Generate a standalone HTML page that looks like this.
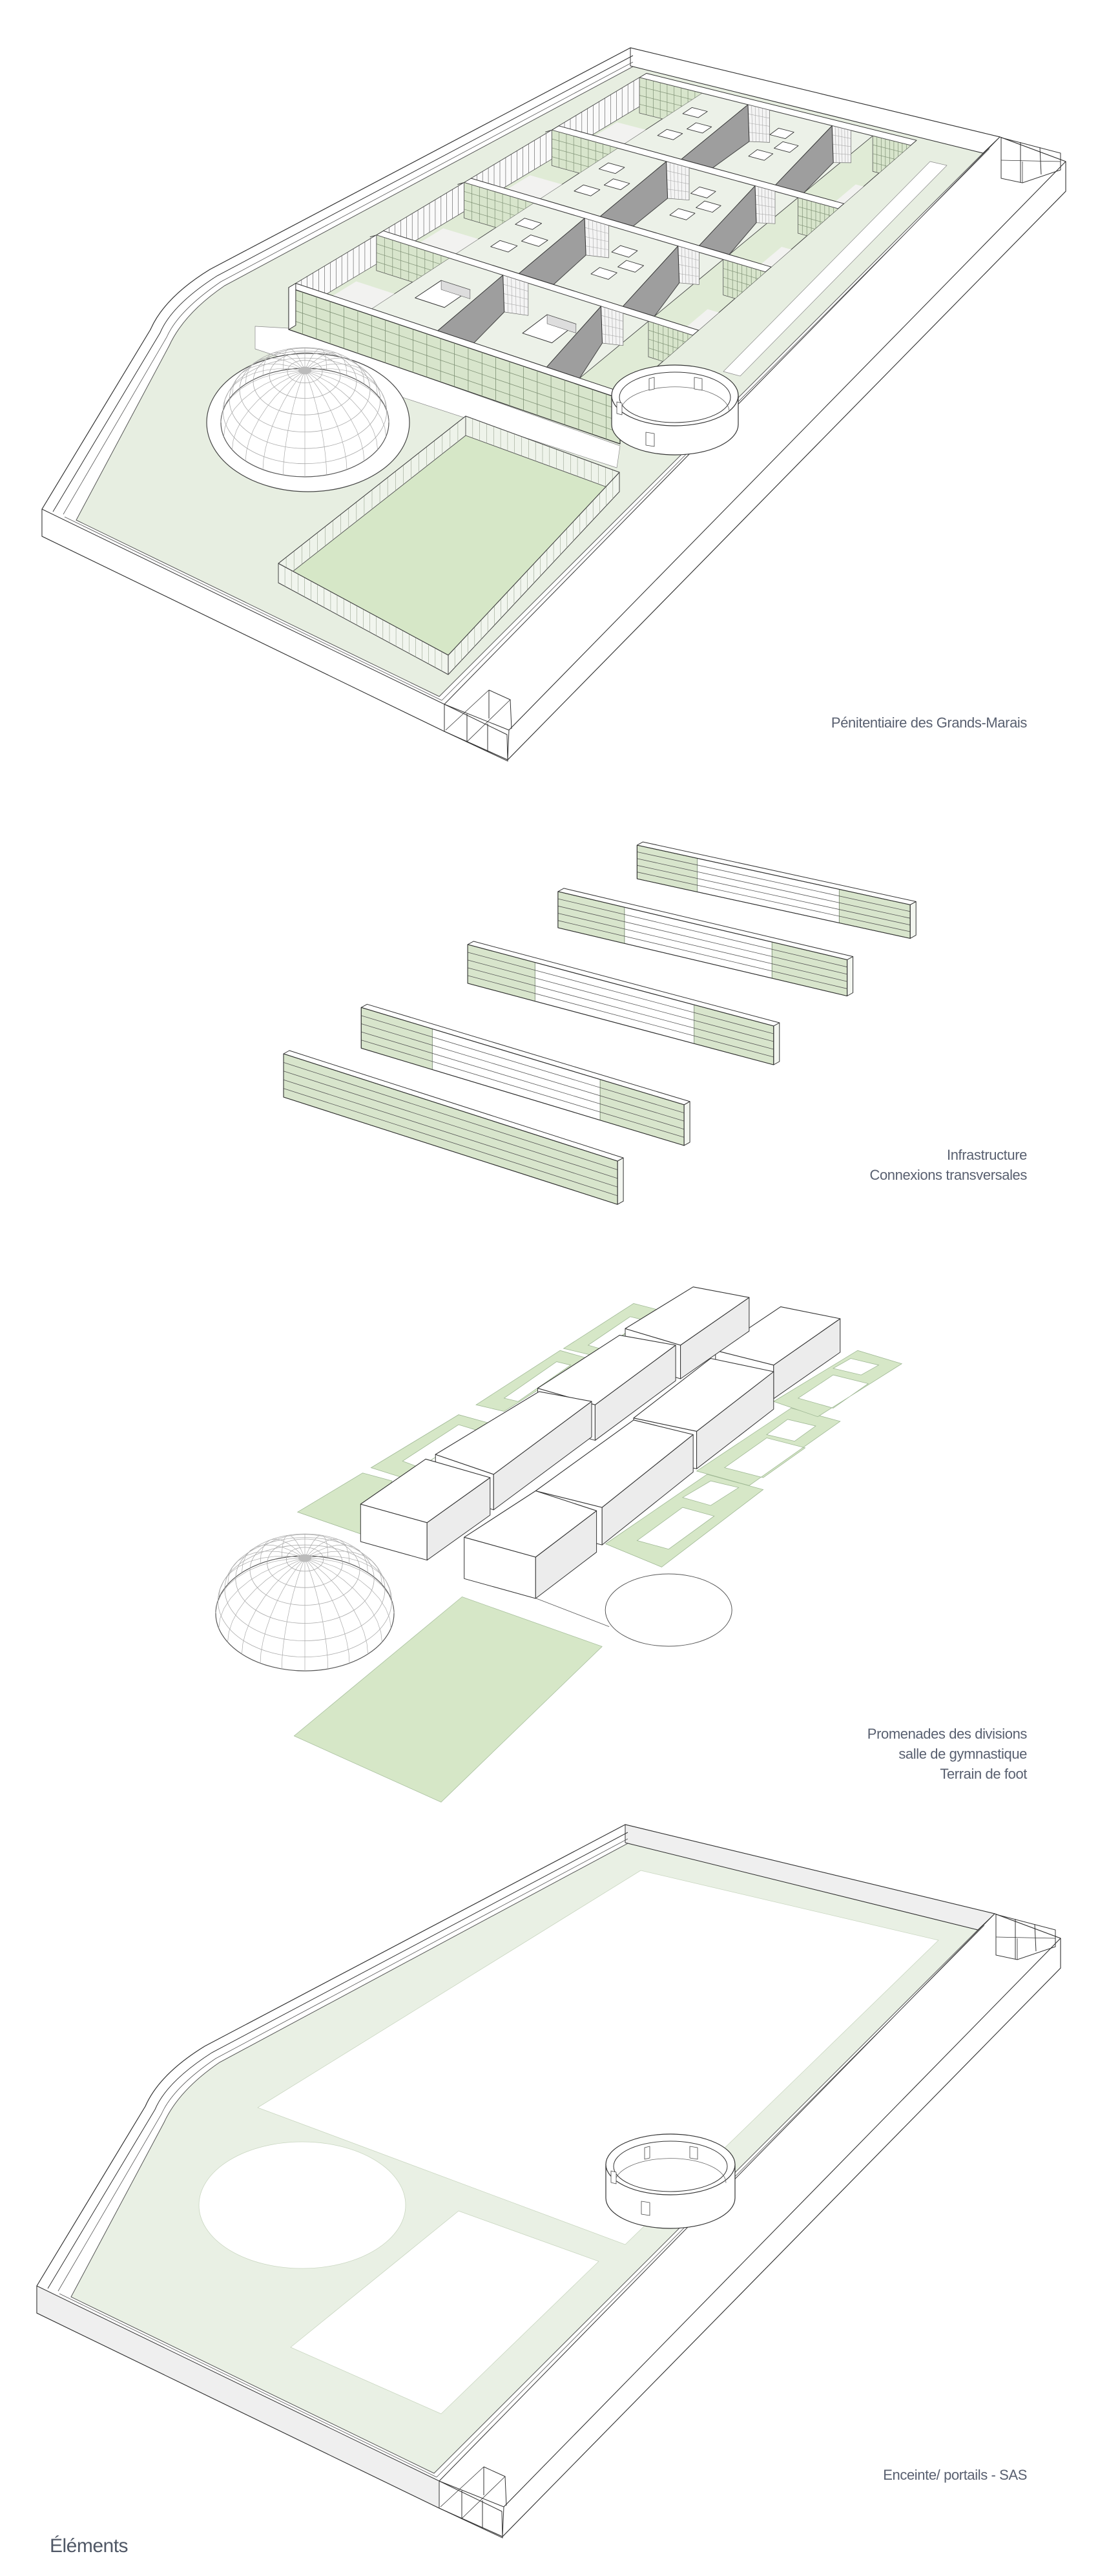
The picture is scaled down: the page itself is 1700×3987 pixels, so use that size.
<!DOCTYPE html>
<html><head><meta charset="utf-8">
<style>
html,body{margin:0;padding:0;background:#fff;}
#wrap{position:relative;width:1700px;height:3987px;overflow:hidden;background:#fff;}
svg{position:absolute;left:0;top:0;}
.t{position:absolute;right:110px;text-align:right;font-family:"Liberation Sans",Arial,sans-serif;font-size:22px;line-height:31px;color:#596070;letter-spacing:-0.4px;}
.el{position:absolute;left:77px;top:3924px;font-family:"Liberation Sans",Arial,sans-serif;font-size:30px;color:#505866;letter-spacing:-0.5px;}
</style></head><body>
<div id="wrap">
<svg id="s" width="1700" height="3987" viewBox="0 0 1700 3987" xmlns="http://www.w3.org/2000/svg"></svg>
<div class="t" style="top:1103px">Pénitentiaire des Grands-Marais</div>
<div class="t" style="top:1772px">Infrastructure<br>Connexions transversales</div>
<div class="t" style="top:2668px;line-height:31px">Promenades des divisions<br>salle de gymnastique<br>Terrain de foot</div>
<div class="t" style="top:3815px">Enceinte/ portails - SAS</div>
<div class="el">Éléments</div>
</div>
<script>
(function(){
var g=[],defs=[],cid=0;
function f1(v){return (Math.round(v*10)/10);}
function pts(a){return a.map(function(p){return f1(p[0])+','+f1(p[1]);}).join(' ');}
function P(a,f,s,w){g.push('<polygon points="'+pts(a)+'" fill="'+(f||'none')+'" stroke="'+(s||'#333')+'" stroke-width="'+(w||1)+'" stroke-linejoin="round"/>');}
function Lp(a,s,w){g.push('<polyline points="'+pts(a)+'" fill="none" stroke="'+(s||'#333')+'" stroke-width="'+(w||1)+'"/>');}
function Pa(d,f,s,w,extra){g.push('<path d="'+d+'" fill="'+(f||'none')+'" stroke="'+(s||'#333')+'" stroke-width="'+(w||1)+'" '+(extra||'')+'/>');}
function El(cx,cy,rx,ry,f,s,w){g.push('<ellipse cx="'+f1(cx)+'" cy="'+f1(cy)+'" rx="'+f1(rx)+'" ry="'+f1(ry)+'" fill="'+(f||'none')+'" stroke="'+(s||'#333')+'" stroke-width="'+(w||1)+'"/>');}
function lerp(a,b,t){return [a[0]+(b[0]-a[0])*t,a[1]+(b[1]-a[1])*t];}
function add(p,dx,dy){return [p[0]+dx,p[1]+dy];}
function grid(q,n,m,col,w){
  var a=q[0],b=q[1],c=q[2],d=q[3],i;
  for(i=1;i<n;i++)Lp([lerp(a,b,i/n),lerp(d,c,i/n)],col||'#7f9175',w||0.7);
  for(i=1;i<m;i++)Lp([lerp(a,d,i/m),lerp(b,c,i/m)],col||'#7f9175',w||0.7);
}
function clipStart(poly){cid++;defs.push('<clipPath id="c'+cid+'"><polygon points="'+pts(poly)+'"/></clipPath>');g.push('<g clip-path="url(#c'+cid+')">');}
function clipEnd(){g.push('</g>');}

var GROUND='#e7eee1',ROOF='#ecf1e8',GLASS='#d8e5cc',GRASS='#d6e7c7',DARK='#9e9e9e',FLOOR='#e0ebd6';

function enc(dx,dy,face,ground){
  function T(x,y){return [x+dx,y+dy];}
  function S(x,y){return f1(x+dx)+','+f1(y+dy);}
  Pa('M'+S(976,74)+' L'+S(1548,212)+' L'+S(1650,250)+' L'+S(1650,296)+' L'+S(786,1176)+' L'+S(688,1132)+' L'+S(65,830)+' L'+S(65,788)+' L'+S(233,510)+' Q'+S(255,460)+' '+S(325,417)+' Z','#fff','#333',1.2);
  Pa('M'+S(980,103)+' L'+S(1522,237)+' L'+S(680,1078)+' L'+S(118,805)+' L'+S(262,535)+' Q'+S(285,485)+' '+S(348,442)+' Z',ground,'#555',1);
  P([T(976,74),T(1548,212),T(1522,237),T(976,102)],face,'#333',1);
  P([T(1548,212),T(1650,250),T(788,1130),T(688,1090)],'#fff','#333',1);
  P([T(1650,250),T(1650,296),T(786,1176),T(788,1130)],'#fff','#333',1);
  P([T(65,788),T(688,1090),T(688,1132),T(65,830)],face,'#333',1);
  Pa('M'+S(980,86)+' L'+S(336,427)+' Q'+S(266,472)+' '+S(248,515)+' L'+S(82,792),'none','#333',1);
  Pa('M'+S(980,96)+' L'+S(342,436)+' Q'+S(276,481)+' '+S(258,522)+' L'+S(98,796),'none','#555',0.8);
  Lp([T(100,800),T(684,1084)],'#555',0.8);
  Lp([T(1532,230),T(684,1084)],'#555',0.8);
  Lp([T(1550,213),T(1642,237),T(1642,263),T(1583,283),T(1550,276),T(1550,213)]);
  Lp([T(1580,220),T(1580,282)]);Lp([T(1610,228),T(1612,270)]);
  Lp([T(1550,248),T(1642,250)],'#333',0.8);Lp([T(1583,283),T(1583,250)],'#333',0.8);
  Lp([T(688,1090),T(688,1132),T(786,1178),T(785,1137),T(688,1090)]);
  Lp([T(723,1105),T(723,1148)]);Lp([T(755,1120),T(755,1163)]);
  Lp([T(757,1068),T(790,1083),T(792,1128)]);Lp([T(757,1068),T(757,1112)]);
  Lp([T(690,1130),T(757,1068)],'#333',0.8);Lp([T(723,1148),T(790,1083)],'#333',0.8);
}

function dome(cx,cy,R,ry,ring){
  if(ring){El(cx+5,cy,ring[0],ring[1],'#fff','#444',1.2);}
  var k=ry/R,c=0.62,i,j;
  El(cx,cy,R,ry,'#fff','#555',1.2);
  for(i=1;i<=6;i++){var la=i*13*Math.PI/180;El(cx,cy-R*Math.sin(la)*c,R*Math.cos(la),k*R*Math.cos(la),'none','#aaa',0.8);}
  for(j=0;j<24;j++){var lo=j*Math.PI*2/24,a=[];for(i=0;i<=9;i++){var la2=i*10*Math.PI/180;a.push([cx+R*Math.cos(la2)*Math.cos(lo),cy-R*Math.sin(la2)*c+k*R*Math.cos(la2)*Math.sin(lo)]);}Lp(a,'#aaa',0.7);}
  El(cx,cy-R*c,10,6,'#bbb','none',0);
}

function field(Tp,Rp,Bp,Lf,h){
  P([add(Tp,0,h),add(Rp,0,h),add(Bp,0,h),add(Lf,0,h)],GRASS,'#666',0.8);
  var q1=[Lf,Tp,add(Tp,0,h),add(Lf,0,h)],q2=[Tp,Rp,add(Rp,0,h),add(Tp,0,h)];
  P(q1,'#eef3ea','#555',0.9);grid(q1,24,1,'#9aa592',0.6);
  P(q2,'#eef3ea','#555',0.9);grid(q2,22,1,'#9aa592',0.6);
  var q3=[Lf,Bp,add(Bp,0,h),add(Lf,0,h)],q4=[Bp,Rp,add(Rp,0,h),add(Bp,0,h)];
  P(q3,'#f1f5ee','#444',1);grid(q3,26,1,'#9aa592',0.6);
  P(q4,'#f1f5ee','#444',1);grid(q4,26,1,'#9aa592',0.6);
  P([Tp,Rp,Bp,Lf],'none','#444',1);
}

function rot(cx,cy,rx,ry,h){
  Pa('M'+(cx-rx)+','+cy+' L'+(cx-rx)+','+(cy+h)+' A'+rx+' '+ry+' 0 0 0 '+(cx+rx)+','+(cy+h)+' L'+(cx+rx)+','+cy+' Z','#fff','#333',1.2);
  El(cx,cy,rx,ry,'#fff','#333',1.2);
  El(cx,cy+3,rx-12,ry-8,'#fff','#333',1);
  Pa('M'+(cx-rx+14)+','+(cy+h*0.55)+' A'+(rx-14)+' '+(ry-9)+' 0 0 1 '+(cx+rx-14)+','+(cy+h*0.55),'none','#666',0.8);
  P([[cx-40,cy-26],[cx-32,cy-28],[cx-32,cy-10],[cx-40,cy-8]],'#fff','#444',0.8);
  P([[cx+30,cy-28],[cx+42,cy-26],[cx+42,cy-8],[cx+30,cy-10]],'#fff','#444',0.8);
  P([[cx-rx+8,cy+10],[cx-rx+16,cy+12],[cx-rx+16,cy+30],[cx-rx+8,cy+28]],'#fff','#444',0.8);
  P([[cx-45,cy+ry+10],[cx-32,cy+ry+12],[cx-32,cy+ry+32],[cx-45,cy+ry+30]],'#fff','#444',0.8);
}

/* SECTION 1 */
enc(0,0,'#fff',GROUND);
P([[395,505],[447,508],[960,690],[955,724],[395,540]],'#fff','#888',0.7);
P([[1120,575],[1440,250],[1466,256],[1146,582]],'#fff','#888',0.7);
dome(472,654,130,84,[157,107]);
field([721,644],[959,731],[694,1014],[431,872],30);

var C00=[447,445],C10=[960,617],C01=[990,120],C11=[1410,225];
function B(s,t){return [(1-s)*(1-t)*C00[0]+s*(1-t)*C10[0]+(1-s)*t*C01[0]+s*t*C11[0],(1-s)*(1-t)*C00[1]+s*(1-t)*C10[1]+(1-s)*t*C01[1]+s*t*C11[1]];}
function Q(s0,s1,t0,t1){return [B(s0,t0),B(s1,t0),B(s1,t1),B(s0,t1)];}
P(Q(0,1,1,1.02),'#fff','#333',1);
var skyL=[[0.31,0.3],[0.36,0.5],[0.29,0.7]],skyR=[[0.62,0.35],[0.66,0.55],[0.6,0.72]];
for(var k=3;k>=0;k--){
  var t0=k/4+0.02,t1=(k+1)/4,h=55,dt=t1-t0;
  P(Q(0,1,t0,t1),ROOF,'#444',1);
  [[0,0.23,true],[0.86,1,false]].forEach(function(c){
    var hole=Q(c[0],c[1],t0,t1);
    P(hole,FLOOR,'#444',0.9);
    clipStart(hole);
    var rc=Q(c[0]+0.05,c[1]-0.05,t0+dt*0.25,t0+dt*0.55);
    P([add(rc[0],0,30),add(rc[1],0,30),add(rc[2],0,30),add(rc[3],0,30)],'#f2f2f0','none',0);
    var bf=[B(c[0],t1),B(c[1],t1),add(B(c[1],t1),0,h),add(B(c[0],t1),0,h)];
    P(bf,GLASS,'#555',0.8);grid(bf,9,4,'#7f9175',0.7);
    if(c[2]){var lf=[B(0,t1),B(0,t0),add(B(0,t0),0,h-10),add(B(0,t1),0,h-10)];P(lf,'#fafafa','#555',0.8);grid(lf,14,1,'#555',0.6);}
    clipEnd();
  });
  [[0.43,0.54,0.40,0.48],[0.76,0.86,0.71,0.78]].forEach(function(d){
    var a=B(d[2],t1),b=B(d[3],t1);
    var gq=[a,b,add(b,0,50),add(a,2,57)];P(gq,'#f4f4f4','#666',0.7);grid(gq,6,4,'#aaa',0.6);
    P([B(d[0],t0),a,add(a,2,57),B(d[1],t0)],DARK,'#333',1);
    Lp([B(d[1],t0),add(a,2,57)],'#555',0.6);
  });
  if(k==0){
    [[0.33,0.5],[0.66,0.5]].forEach(function(p){
      var sq=Q(p[0]-0.045,p[0]+0.045,t0+dt*(p[1]-0.17),t0+dt*(p[1]+0.17));
      P(sq,'#fff','#333',1);
      P([sq[3],sq[2],add(sq[2],0,14),add(sq[3],0,14)],'#ddd','#555',0.6);
    });
  } else {
    skyL.concat(skyR).forEach(function(p){
      P(Q(p[0]-0.028,p[0]+0.028,t0+dt*(p[1]-0.06),t0+dt*(p[1]+0.06)),'#fff','#333',0.9);
    });
  }
  P(Q(0,1,k/4,k/4+0.02),'#fff','#333',1);
  if(k>0){ Lp([B(0,k/4),add(B(0,k/4),-10,3)],'#333',1); }
}
var fw=[B(0,0),B(1,0),add(B(1,0),0,70),add(B(0,0),0,65)];
P(fw,GLASS,'#333',1.2);grid(fw,24,4,'#7f9175',0.8);
P([B(0,0),B(0,0.02),add(B(0,0.02),0,65),add(B(0,0),0,65)],'#fff','#333',1);
rot(1045,612,98,47,45);

/* SECTION 2 */
function Z4(x,y){return [x*1.084,y*1.025+1262];}
function bar(tl,tr,H,greens){
  var TL=Z4(tl[0],tl[1]),TR=Z4(tr[0],tr[1]);
  var o=[9,-5];
  P([TL,TR,add(TR,o[0],o[1]),add(TL,o[0],o[1])],'#fff','#333',1);
  var face=[TL,TR,add(TR,0,H),add(TL,0,H)];
  P(face,'#fff','#333',1);
  greens.forEach(function(gs){
    var a=lerp(TL,TR,gs[0]),b=lerp(TL,TR,gs[1]);
    var q=[a,b,add(b,0,H),add(a,0,H)];P(q,GLASS,'#6d8064',0.8);
  });
  for(var i=1;i<5;i++)Lp([add(TL,0,H*i/5),add(TR,0,H*i/5)],'#555',0.8);
  P([TR,add(TR,o[0],o[1]),add(TR,o[0],o[1]+H),add(TR,0,H)],'#f3f6f0','#333',1);
  P(face,'none','#333',1.1);
}
bar([910,45],[1300,135],52,[[0,0.22],[0.74,1]]);
bar([797,115],[1210,218],56,[[0,0.23],[0.74,1]]);
bar([668,195],[1105,318],60,[[0,0.22],[0.74,1]]);
bar([516,290],[977,437],63,[[0,0.22],[0.74,1]]);
bar([405,360],[882,522],67,[[0,1]]);

/* SECTION 3 */
function Zs(a){return a.map(function(p){return Z4(p[0],p[1]);});}
function frame(outer,holes){
  var d='M'+pts(Zs(outer)).split(' ').join(' L')+' Z';
  holes.forEach(function(hh){d+=' M'+pts(Zs(hh)).split(' ').join(' L')+' Z';});
  Pa(d,GRASS,'#9fb894',0.8,'fill-rule="evenodd"');
}
frame([[425,1052],[518,993],[560,1005],[515,1085]],[]);
frame([[530,985],[655,905],[700,918],[575,1000]],[[[575,975],[655,920],[680,928],[600,985]]]);
frame([[680,890],[800,808],[840,820],[720,900]],[[[720,880],[795,825],[815,830],[740,885]]]);
frame([[805,805],[905,737],[945,748],[845,815]],[[[840,800],[900,757],[920,762],[860,806]]]);
frame([[865,1100],[1010,995],[1090,1018],[945,1135]],[[[910,1095],[975,1045],[1020,1058],[955,1108]],[[975,1030],[1015,1005],[1055,1015],[1015,1042]]]);
frame([[995,990],[1130,895],[1200,915],[1070,1012]],[[[1035,985],[1095,940],[1150,955],[1090,1000]],[[1095,935],[1125,912],[1165,922],[1135,945]]]);
frame([[1105,885],[1225,808],[1288,828],[1168,908]],[[[1140,880],[1190,845],[1240,858],[1190,895]],[[1190,835],[1215,820],[1255,830],[1230,845]]]);
function box(L,Bk,R,F,h){
  var l=Z4(L[0],L[1]),b=Z4(Bk[0],Bk[1]),r=Z4(R[0],R[1]),f=Z4(F[0],F[1]);
  P([l,f,add(f,0,h),add(l,0,h)],'#fff','#333',1);
  P([f,r,add(r,0,h),add(f,0,h)],'#ececec','#333',1);
  P([l,b,r,f],'#fff','#333',1.1);
}
box([1022,808],[1115,742],[1200,760],[1105,830],52);
box([893,775],[990,712],[1070,728],[972,800],52);
box([768,865],[885,785],[965,800],[850,890],55);
box([905,910],[1015,820],[1105,840],[995,930],58);
box([622,965],[770,870],[845,885],[705,995],55);
box([765,1020],[905,913],[990,935],[860,1045],58);
box([515,1040],[608,972],[700,1000],[610,1068],58);
box([663,1090],[765,1020],[852,1050],[765,1120],64);
Lp([Z4(765,1182),Z4(870,1225)],'#555',0.8);
var cc=Z4(955,1200);El(cc[0],cc[1],98,56,'#fff','#555',1);
var dc=Z4(435,1205);dome(472,dc[1],138,89,null);
P(Zs([[420,1390],[660,1180],[860,1255],[630,1490]]),GRASS,'#a9c09e',0.8);

/* SECTION 4 */
enc(-8,2750,'#efefef','#e9f0e4');
P([[399,3262],[992,2895],[1453,3003],[968,3474]],'#fff','#c9d6c0',0.8);
El(468,3413,160,98,'#fff','#c9d6c0',0.8);
P([[710,3422],[927,3500],[683,3736],[450,3633]],'#fff','#c9d6c0',0.8);
rot(1038,3350,100,47,52);

var svg=document.getElementById('s');
svg.innerHTML='<defs>'+defs.join('')+'</defs>'+g.join('');
})();
</script>
</body></html>
